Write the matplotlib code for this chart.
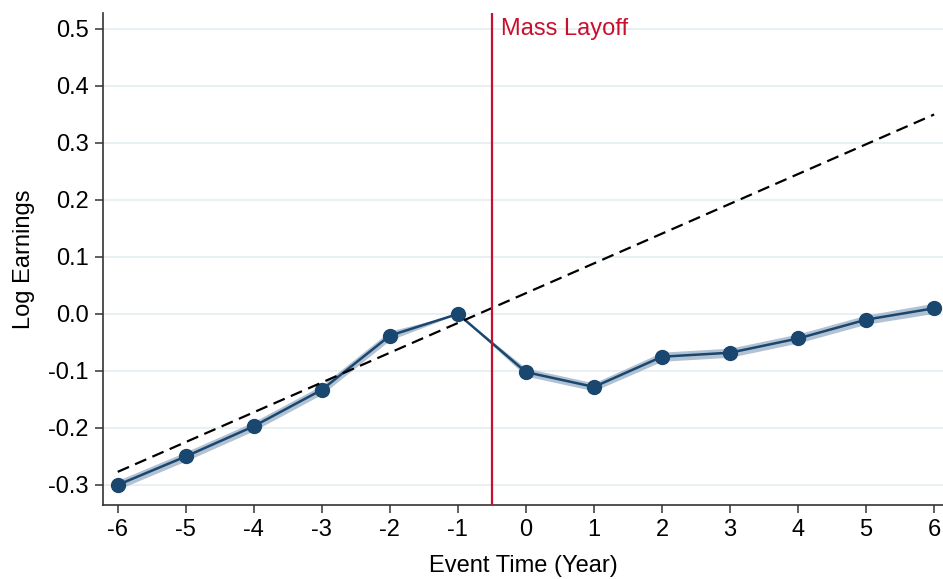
import numpy as np
import matplotlib.pyplot as plt

plt.rcParams['font.family'] = ['Liberation Sans', 'DejaVu Sans']
plt.rcParams['axes.unicode_minus'] = False

event_time = [-6, -5, -4, -3, -2, -1, 0, 1, 2, 3, 4, 5, 6]
log_earn = [-0.300, -0.250, -0.197, -0.133, -0.038, 0.000,
            -0.102, -0.128, -0.075, -0.068, -0.043, -0.010, 0.010]
ci_half = [0.008, 0.008, 0.008, 0.008, 0.008, 0.000,
           0.007, 0.007, 0.008, 0.008, 0.008, 0.008, 0.009]
trend_x = [-6, 6]
trend_y = [-0.277, 0.350]
layoff_x = -0.5

navy = '#1a476f'
band = '#9fb3c8'
red = '#c8102e'

x = np.array(event_time)
y = np.array(log_earn)
ci = np.array(ci_half)

fig = plt.figure(figsize=(9.43, 5.79), dpi=100)
ax = fig.add_axes([0.109, 0.128, 0.891, 0.8495])

ax.fill_between(x, y - ci, y + ci, color=band, alpha=0.8, lw=0, zorder=2)
ax.plot(x, y, color=navy, lw=1.8, marker='o', ms=10, zorder=3)
ax.plot(trend_x, trend_y, color='black', lw=1.6, ls=(0, (5.5, 3)), zorder=4)
ax.axvline(layoff_x, color=red, lw=1.6, zorder=5)
ax.text(layoff_x + 0.13, 0.5, 'Mass Layoff', color=red, fontsize=17,
        va='center', ha='left')

ax.set_xlim(-6.22, 6.13)
ax.set_ylim(-0.335, 0.528)
ax.set_xticks(range(-6, 7))
ax.set_yticks(np.arange(-0.3, 0.51, 0.1))
ax.set_yticklabels([f'{v:.1f}' for v in np.arange(-0.3, 0.51, 0.1)])
ax.yaxis.grid(True, color='#e7eff2', lw=1.3, zorder=0)
ax.set_axisbelow(True)

for s in ['top', 'right']:
    ax.spines[s].set_visible(False)
for s in ['left', 'bottom']:
    ax.spines[s].set_color('#333333')
    ax.spines[s].set_linewidth(1.2)
ax.tick_params(direction='out', length=6, width=1.1, color='#333333',
               labelsize=17, pad=4)

ax.set_xlabel('Event Time (Year)', fontsize=17, labelpad=10)
ax.set_ylabel('Log Earnings', fontsize=17, labelpad=10)

fig.savefig('out.png', dpi=100)
